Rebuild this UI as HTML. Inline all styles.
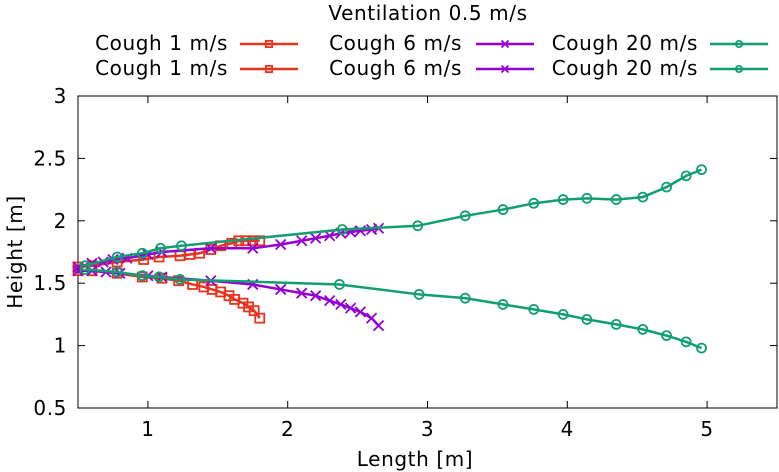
<!DOCTYPE html>
<html><head><meta charset="utf-8"><style>
html,body{margin:0;padding:0;background:#fff;}
svg{display:block;font-family:"DejaVu Sans","Liberation Sans",sans-serif;}
text{letter-spacing:0.6px;}
</style></head><body>
<svg id="chart" width="779" height="472">
<text x="428" y="20" font-size="20" text-anchor="middle">Ventilation 0.5 m/s</text>
<g id="frame"></g><g id="series"></g><g id="legend"></g>
<text x="415" y="466" font-size="20" text-anchor="middle">Length [m]</text>
<text transform="translate(22,252) rotate(-90)" font-size="20" text-anchor="middle">Height [m]</text>
</svg>
<script>
const xTicks=[1,2,3,4,5];
const yTicks=[0.5,1,1.5,2,2.5,3];
const names=["Cough 1 m/s","Cough 6 m/s","Cough 20 m/s"];
const red1X=[0.5,0.6,0.78,0.97,1.08,1.23,1.3,1.37,1.45,1.52,1.6,1.65,1.7,1.75,1.8];
const red1Y=[1.63,1.64,1.67,1.69,1.71,1.72,1.73,1.74,1.77,1.8,1.82,1.84,1.84,1.84,1.84];
const red2X=[0.5,0.6,0.78,0.96,1.1,1.22,1.32,1.4,1.46,1.52,1.58,1.62,1.68,1.72,1.76,1.8];
const red2Y=[1.6,1.6,1.58,1.55,1.54,1.52,1.49,1.47,1.45,1.43,1.4,1.37,1.34,1.31,1.28,1.22];
const pur1X=[0.5,0.6,0.68,0.75,0.85,1.0,1.1,1.45,1.75,1.95,2.1,2.2,2.3,2.38,2.45,2.52,2.6,2.65];
const pur1Y=[1.63,1.66,1.67,1.69,1.7,1.73,1.75,1.78,1.78,1.81,1.84,1.86,1.88,1.9,1.91,1.92,1.93,1.94];
const pur2X=[0.5,0.6,0.7,0.8,1.0,1.1,1.45,1.75,1.95,2.1,2.2,2.3,2.38,2.45,2.52,2.6,2.65];
const pur2Y=[1.6,1.6,1.59,1.58,1.56,1.55,1.52,1.49,1.45,1.42,1.4,1.36,1.33,1.3,1.27,1.22,1.16];
const grn1X=[0.55,0.78,0.96,1.09,1.24,2.39,2.93,3.27,3.54,3.76,3.97,4.14,4.35,4.54,4.71,4.85,4.96];
const grn1Y=[1.64,1.71,1.74,1.78,1.8,1.93,1.96,2.04,2.09,2.14,2.17,2.18,2.17,2.19,2.27,2.36,2.41];
const grn2X=[0.55,0.78,0.96,1.08,1.23,2.37,2.94,3.27,3.54,3.76,3.97,4.14,4.35,4.54,4.71,4.85,4.96];
const grn2Y=[1.61,1.59,1.56,1.55,1.53,1.49,1.41,1.38,1.33,1.29,1.25,1.21,1.17,1.13,1.08,1.03,0.98];

const NS="http://www.w3.org/2000/svg";
const L=78,R=777,T=96,B=408,X0=0.5,X1=5.5,Y0=0.5,Y1=3;
const sx=v=>L+(v-X0)/(X1-X0)*(R-L);
const sy=v=>B-(v-Y0)/(Y1-Y0)*(B-T);
function mk(tag,attrs,parent){const e=document.createElementNS(NS,tag);for(const k in attrs)e.setAttribute(k,attrs[k]);parent.appendChild(e);return e;}
const frame=document.getElementById('frame');
const fr=mk('rect',{x:L,y:T,width:R-L,height:B-T,fill:'none',stroke:'#000','stroke-width':1},frame);


xTicks.forEach(v=>{
 const x=sx(v);
 mk('line',{x1:x,x2:x,y1:B,y2:B-7,stroke:'#000'},frame);
 mk('line',{x1:x,x2:x,y1:T,y2:T+7,stroke:'#000'},frame);
 const t=mk('text',{x:x,y:B+28,'font-size':20,'text-anchor':'middle'},frame);t.textContent=v;
 
 
});
yTicks.forEach(v=>{
 const y=sy(v);
 mk('line',{x1:L,x2:L+7,y1:y,y2:y,stroke:'#000'},frame);
 mk('line',{x1:R,x2:R-7,y1:y,y2:y,stroke:'#000'},frame);
 const t=mk('text',{x:L-11,y:y+7,'font-size':20,'text-anchor':'end'},frame);t.textContent=v;
 
 
});
function marker(g,type,x,y,c,s){
 s=s||1;
 if(type==='sq')mk('rect',{x:x-4.5*s,y:y-4.5*s,width:9*s,height:9*s,fill:'none',stroke:c,'stroke-width':1.8},g);
 else if(type==='x'){const d=5*s;mk('path',{d:`M${x-d},${y-d}L${x+d},${y+d}M${x-d},${y+d}L${x+d},${y-d}`,stroke:c,'stroke-width':1.8},g);}
 else mk('circle',{cx:x,cy:y,r:4.5*s,fill:'none',stroke:c,'stroke-width':1.8},g);
}
const ser=[[red1X,red1Y,'#e8331f','sq','cough-1-upper'],[red2X,red2Y,'#e8331f','sq','cough-1-lower'],
[pur1X,pur1Y,'#9400d3','x','cough-6-upper'],[pur2X,pur2Y,'#9400d3','x','cough-6-lower'],
[grn1X,grn1Y,'#119e73','o','cough-20-upper'],[grn2X,grn2Y,'#119e73','o','cough-20-lower']];
const sg=document.getElementById('series');
ser.forEach(s=>{
 const g=mk('g',{},sg);
 
 
 const pts=s[0].map((x,i)=>sx(x)+','+sy(s[1][i])).join(' ');
 mk('polyline',{points:pts,fill:'none',stroke:s[2],'stroke-width':2.5},g);
 s[0].forEach((x,i)=>marker(g,s[3],sx(x),sy(s[1][i]),s[2]));
});
const lg=document.getElementById('legend');
const cols=[[228,240,298,'#e8331f','sq'],[462,476,534,'#9400d3','x'],[698,710,768,'#119e73','o']];
[50,75].forEach((y,r)=>{
 cols.forEach((c,i)=>{
  const g=mk('g',{},lg);
  
  
  const t=mk('text',{x:c[0],y:y,'font-size':20,'text-anchor':'end'},g);t.textContent=names[i];
  mk('line',{x1:c[1],x2:c[2],y1:y-6,y2:y-6,stroke:c[3],'stroke-width':2.5},g);
  marker(g,c[4],(c[1]+c[2])/2,y-6,c[3],0.7);
 });
});
</script>
</body></html>
